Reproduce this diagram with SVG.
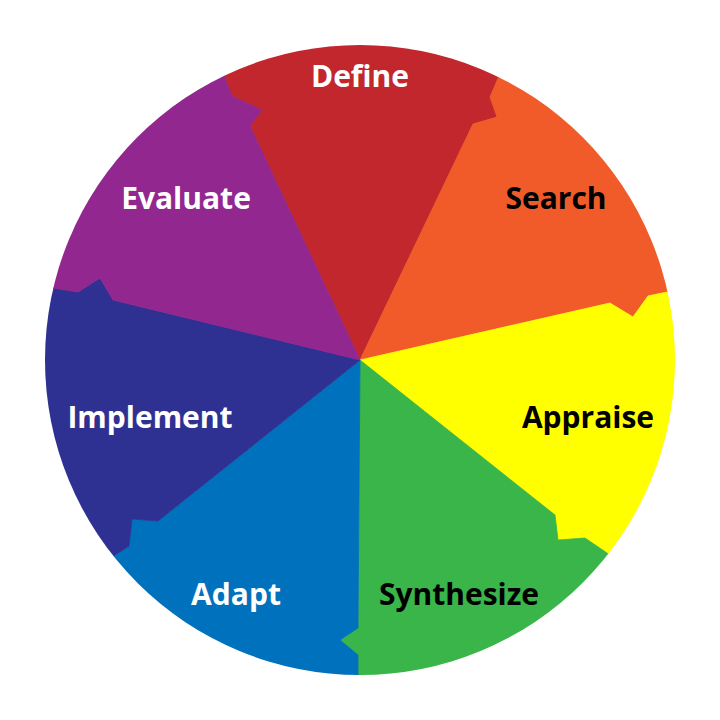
<svg xmlns="http://www.w3.org/2000/svg" width="720" height="720" viewBox="0 0 720 720">
<defs>
<clipPath id="c"><circle cx="360" cy="360" r="315"/></clipPath>
<style>
text{font-family:"Open Sans","DejaVu Sans",sans-serif;font-weight:bold;font-size:30px;text-anchor:middle}
.w{fill:#fff}.k{fill:#000}
polygon{stroke-width:0.8;stroke-linejoin:round}
</style>
</defs>
<rect width="720" height="720" fill="#fff"/>
<g clip-path="url(#c)">
<g id="define"><polygon fill="#c1272d" stroke="#c1272d" points="360,360 250,126 262,110 232,96 224,76 215,50 360,-140 510,50 499,76 490,97 497,117 473,124"/></g>
<g id="search"><polygon fill="#f15a29" stroke="#f15a29" points="360,360 473,124 497,117 490,97 499,76 510,50 750,60 690,287 667,292 648,296 633,317 610,303"/></g>
<g id="appraise"><polygon fill="#ffff00" stroke="#ffff00" points="360,360 610,303 633,317 648,296 667,292 690,287 860,420 625,568 607,553 585,538 558,540 555,515"/></g>
<g id="synthesize"><polygon fill="#39b54a" stroke="#39b54a" points="360,360 555,515 558,540 585,538 607,553 625,568 560,820 358,690 358,655 340,640 358,628"/></g>
<g id="adapt"><polygon fill="#0071bc" stroke="#0071bc" points="360,360 358,628 340,640 358,655 358,690 180,830 100,568 115,555 129,546 132,519 158,521"/></g>
<g id="implement"><polygon fill="#2e3192" stroke="#2e3192" points="360,360 158,521 132,519 129,546 115,555 100,568 -130,430 30,283 53,288 78,292 100,278 113,300"/></g>
<g id="evaluate"><polygon fill="#92278f" stroke="#92278f" points="360,360 113,300 100,278 78,292 53,288 30,283 -20,40 215,50 224,76 232,96 262,110 250,126"/></g>
</g>
<text class="w" x="360" y="87">Define</text>
<text class="k" x="556" y="209">Search</text>
<text class="k" x="588" y="428">Appraise</text>
<text class="k" x="459" y="605">Synthesize</text>
<text class="w" x="236" y="605">Adapt</text>
<text class="w" x="150" y="428">Implement</text>
<text class="w" x="186" y="209">Evaluate</text>
</svg>
